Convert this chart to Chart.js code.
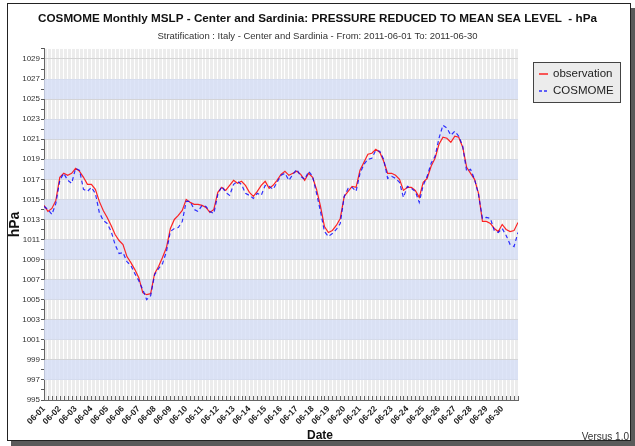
<!DOCTYPE html>
<html>
<head>
<meta charset="utf-8">
<title>COSMOME Monthly MSLP</title>
<script src="https://cdn.jsdelivr.net/npm/chart.js@4.4.1/dist/chart.umd.min.js"></script>
<style>
  html, body { margin: 0; padding: 0; background: #fff; }
  #mslpChart { display: block; }
</style>
</head>
<body>
<canvas id="mslpChart" width="635" height="446"></canvas>
<script>
// Dati: un valore ogni 6 ore, dal 2011-06-01 00 al 2011-07-01 00
const days = ['06-01', '06-02', '06-03', '06-04', '06-05', '06-06', '06-07', '06-08', '06-09', '06-10',
  '06-11', '06-12', '06-13', '06-14', '06-15', '06-16', '06-17', '06-18', '06-19', '06-20',
  '06-21', '06-22', '06-23', '06-24', '06-25', '06-26', '06-27', '06-28', '06-29', '06-30'];

const observation = [
  1014.4, 1013.8, 1014.1, 1014.9, 1017.2, 1017.6, 1017.4, 1017.6, 1018.1, 1017.8,
  1017.2, 1016.5, 1016.5, 1016.0, 1014.8, 1013.9, 1013.2, 1012.4, 1011.5, 1010.9,
  1010.5, 1009.3, 1008.7, 1008.0, 1007.2, 1005.7, 1005.5, 1005.6, 1007.6, 1008.3,
  1009.2, 1010.2, 1012.1, 1013.0, 1013.4, 1013.9, 1015.0, 1014.7, 1014.5, 1014.5,
  1014.4, 1014.2, 1013.7, 1014.0, 1015.7, 1016.2, 1015.9, 1016.4, 1016.9, 1016.6,
  1016.8, 1016.4, 1015.7, 1015.3, 1015.8, 1016.4, 1016.8, 1016.1, 1016.4, 1016.9,
  1017.5, 1017.8, 1017.4, 1017.6, 1017.8, 1017.5, 1016.9, 1017.6, 1017.2, 1016.0,
  1014.3, 1012.3, 1011.7, 1011.9, 1012.4, 1013.1, 1015.3, 1015.8, 1016.3, 1016.2,
  1017.9, 1018.7, 1019.5, 1019.6, 1020.0, 1019.7, 1018.8, 1017.6, 1017.6, 1017.4,
  1017.0, 1015.9, 1016.2, 1016.2, 1015.9, 1015.2, 1016.7, 1017.1, 1018.3, 1019.1,
  1020.5, 1021.2, 1021.1, 1020.7, 1021.3, 1021.2, 1020.2, 1018.2, 1017.6, 1017.0,
  1015.6, 1012.8, 1012.8, 1012.6, 1012.1, 1011.8, 1012.5, 1012.0, 1011.8, 1011.9,
  1012.7
];

const cosmome = [
  1014.3, 1014.0, 1013.5, 1014.6, 1016.9, 1017.6, 1016.9, 1016.6, 1018.1, 1017.9,
  1016.0, 1015.8, 1016.2, 1015.6, 1013.7, 1012.9, 1012.6, 1011.8, 1010.5, 1009.6,
  1009.7, 1008.8, 1008.4, 1007.6, 1006.9, 1006.0, 1005.0, 1005.4, 1007.5, 1008.1,
  1008.6, 1009.8, 1011.8, 1012.1, 1012.2, 1012.8, 1014.8, 1014.8, 1014.0, 1013.8,
  1014.4, 1014.3, 1013.8, 1013.6, 1015.5, 1016.3, 1015.7, 1015.4, 1016.5, 1016.8,
  1016.5, 1015.6, 1015.4, 1015.1, 1015.6, 1015.4, 1016.4, 1016.3, 1016.0, 1016.7,
  1017.4, 1017.6, 1016.9, 1017.5, 1018.0, 1017.3, 1017.0, 1017.8, 1017.3, 1015.6,
  1013.8, 1011.8, 1011.3, 1011.6, 1012.0, 1012.6, 1015.3, 1016.1, 1016.2, 1015.8,
  1017.6, 1018.5, 1019.0, 1019.1, 1019.9, 1019.8, 1019.0, 1017.1, 1017.3, 1017.1,
  1016.7, 1015.2, 1016.3, 1016.1, 1015.8, 1014.7, 1016.4, 1017.3, 1018.6, 1019.3,
  1021.1, 1022.4, 1022.1, 1021.4, 1021.8, 1021.3, 1020.3, 1017.8, 1018.0, 1017.0,
  1015.5, 1013.1, 1013.2, 1013.1, 1011.9, 1011.7, 1012.1, 1011.4, 1010.5, 1010.3,
  1011.7
];

// etichette dell'asse y (hPa)
const pressureLabels = [995, 997, 999, 1001, 1003, 1005, 1007, 1009, 1011, 1013,
  1015, 1017, 1019, 1021, 1023, 1025, 1027, 1029];

const FONT = 'Liberation Sans, Arial, sans-serif';

// Cornice, fasce colorate, legenda e scritte extra
const frameAndBands = {
  id: 'frameAndBands',
  beforeDraw(chart) {
    const { ctx, chartArea: a } = chart;
    ctx.save();
    ctx.fillStyle = '#ffffff';
    ctx.fillRect(0, 0, chart.width, chart.height);
    // ombra
    ctx.fillStyle = '#5a5a5a';
    ctx.fillRect(631, 8, 4, 438);
    ctx.fillRect(11, 441, 624, 5);
    ctx.strokeStyle = '#222';
    ctx.lineWidth = 1;
    ctx.strokeRect(7.5, 3.5, 623, 437);
    // sfondo area grafico
    ctx.fillStyle = '#ececec';
    ctx.fillRect(a.left, a.top, a.right - a.left, a.bottom - a.top);
    ctx.restore();
  },
  beforeDatasetsDraw(chart) {
    const { ctx, chartArea: a, scales: { x, y } } = chart;
    ctx.save();
    ctx.fillStyle = 'rgba(214,222,246,0.8)';
    for (let k = 1; k < pressureLabels.length - 1; k += 2) {
      const top = y.getPixelForValue(pressureLabels[k + 1]);
      const bot = y.getPixelForValue(pressureLabels[k]);
      ctx.fillRect(a.left, top, a.right - a.left, bot - top);
    }
    // tacche interne sull'asse x
    ctx.strokeStyle = '#666';
    ctx.lineWidth = 1;
    ctx.beginPath();
    for (let i = 0; i < observation.length; i++) {
      const px = Math.round(x.getPixelForValue(i)) + 0.5;
      ctx.moveTo(px, a.bottom);
      ctx.lineTo(px, a.bottom - 4);
    }
    ctx.stroke();
    ctx.restore();
  },
  afterDraw(chart) {
    const { ctx } = chart;
    ctx.save();
    // legenda
    ctx.fillStyle = '#ececec';
    ctx.fillRect(533, 62, 88, 41);
    ctx.strokeStyle = '#444';
    ctx.strokeRect(533.5, 62.5, 87, 40);
    ctx.font = '11.5px ' + FONT;
    ctx.textBaseline = 'middle';
    chart.data.datasets.forEach((ds, i) => {
      const ly = 74 + i * 17;
      ctx.strokeStyle = ds.borderColor;
      ctx.lineWidth = 1.5;
      ctx.setLineDash(ds.borderDash ? [3, 2] : []);
      ctx.beginPath();
      ctx.moveTo(539, ly);
      ctx.lineTo(548, ly);
      ctx.stroke();
      ctx.setLineDash([]);
      ctx.fillStyle = '#222';
      ctx.textAlign = 'left';
      ctx.fillText(ds.label, 553, ly);
    });
    // titolo asse x
    ctx.fillStyle = '#111';
    ctx.font = 'bold 12px ' + FONT;
    ctx.textAlign = 'center';
    ctx.fillText('Date', 320, 436);
    ctx.fillStyle = '#333';
    ctx.font = '10px ' + FONT;
    ctx.textAlign = 'right';
    ctx.textBaseline = 'alphabetic';
    ctx.fillText('Versus 1.0', 629, 440);
    ctx.restore();
  }
};

new Chart(document.getElementById('mslpChart'), {
  type: 'line',
  data: {
    datasets: [{
      label: 'observation',
      data: observation.map((v, i) => ({ x: i, y: v })),
      borderColor: 'rgba(255,0,0,0.85)',
      borderWidth: 1.2,
      pointRadius: 0,
      tension: 0,
      order: 1
    }, {
      label: 'COSMOME',
      data: cosmome.map((v, i) => ({ x: i, y: v })),
      borderColor: 'rgba(0,0,255,0.8)',
      borderDash: [4, 3],
      borderWidth: 1.2,
      pointRadius: 0,
      tension: 0,
      order: 0
    }]
  },
  options: {
    responsive: false,
    animation: false,
    devicePixelRatio: 1,
    layout: { padding: 0 },
    plugins: {
      legend: { display: false },
      tooltip: { enabled: false },
      title: {
        display: true,
        text: 'COSMOME Monthly MSLP - Center and Sardinia: PRESSURE REDUCED TO MEAN SEA LEVEL  - hPa',
        color: '#111',
        font: { family: FONT, size: 11.7, weight: 'bold' },
        padding: { top: 12, bottom: 2.5 }
      },
      subtitle: {
        display: true,
        text: 'Stratification : Italy - Center and Sardinia - From: 2011-06-01 To: 2011-06-30',
        color: '#333',
        font: { family: FONT, size: 9.5 },
        padding: { top: 2, bottom: 7 }
      }
    },
    scales: {
      x: {
        type: 'linear',
        min: 0,
        max: 120,
        afterFit: s => { s.height = 46; },
        grid: { color: '#ffffff', lineWidth: 1, drawTicks: false },
        border: { display: true, color: '#666' },
        ticks: {
          stepSize: 1,
          autoSkip: false,
          minRotation: 45,
          maxRotation: 45,
          padding: 4,
          color: '#222',
          font: { family: FONT, size: 8.5, weight: 'bold' },
          callback: v => (v % 4 === 0 && days[v / 4]) || ''
        }
      },
      y: {
        min: 995,
        max: 1030,
        afterFit: s => { s.width = 44; },
        title: {
          display: true,
          text: 'hPa',
          color: '#111',
          font: { family: FONT, size: 14, weight: 'bold' },
          padding: { top: 7, bottom: 0 }
        },
        grid: {
          color: c => (c.tick && pressureLabels.includes(c.tick.value)) ? '#d4d4d4' : 'rgba(0,0,0,0)',
          tickColor: '#555',
          tickLength: 3
        },
        border: { display: true, color: '#666' },
        ticks: {
          stepSize: 1,
          autoSkip: false,
          padding: 1,
          color: '#333',
          font: { family: FONT, size: 8 },
          callback: v => pressureLabels.includes(v) ? v : ''
        }
      },
      side: {
        type: 'linear',
        position: 'right',
        afterFit: s => { s.width = 117; },
        grid: { display: false },
        border: { display: false },
        ticks: { display: false }
      }
    }
  },
  plugins: [frameAndBands]
});
</script>
</body>
</html>
